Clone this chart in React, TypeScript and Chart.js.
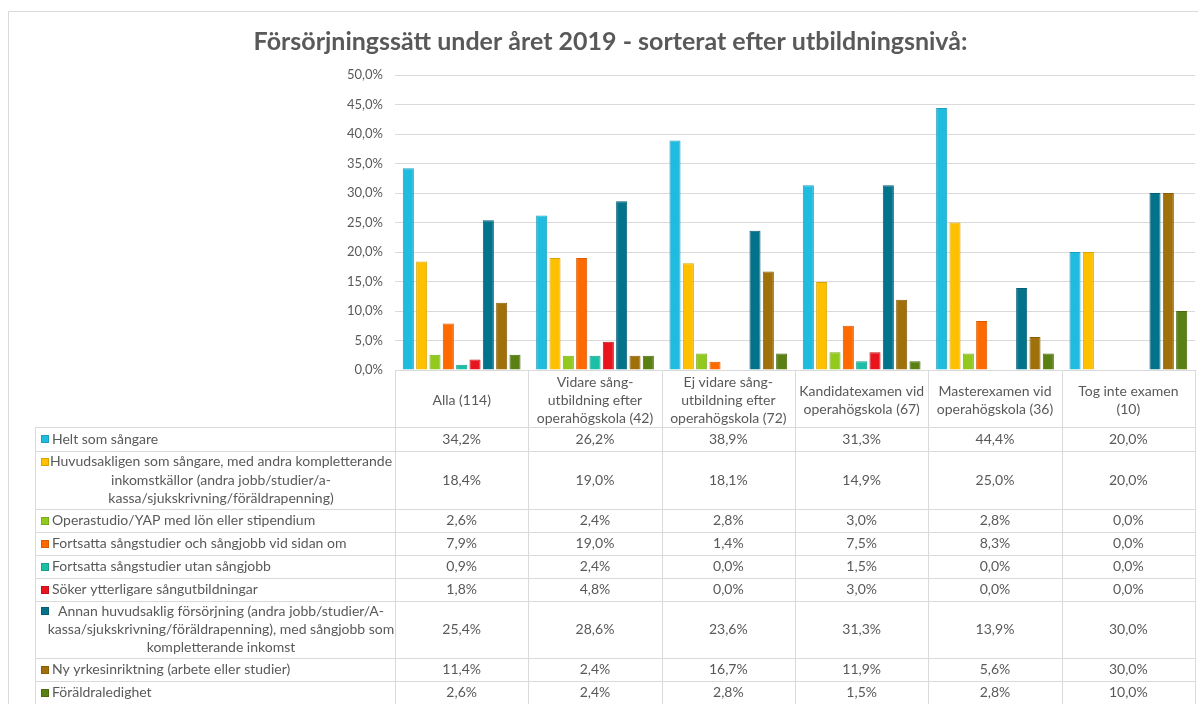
import { useEffect, useRef } from "react";
import { Chart, registerables } from "chart.js";

Chart.register(...registerables);

// ---------- data ----------
const categories: string[][] = [
  ["Alla (114)"],
  ["Vidare sång-", "utbildning efter", "operahögskola (42)"],
  ["Ej vidare sång-", "utbildning efter", "operahögskola (72)"],
  ["Kandidatexamen vid", "operahögskola (67)"],
  ["Masterexamen vid", "operahögskola (36)"],
  ["Tog inte examen", "(10)"],
];

const heltSomSangare = [34.2, 26.2, 38.9, 31.3, 44.4, 20.0];
const huvudsakligenSomSangare = [18.4, 19.0, 18.1, 14.9, 25.0, 20.0];
const operastudio = [2.6, 2.4, 2.8, 3.0, 2.8, 0.0];
const studierOchSangjobb = [7.9, 19.0, 1.4, 7.5, 8.3, 0.0];
const studierUtanSangjobb = [0.9, 2.4, 0.0, 1.5, 0.0, 0.0];
const sokerUtbildning = [1.8, 4.8, 0.0, 3.0, 0.0, 0.0];
const annanForsorjning = [25.4, 28.6, 23.6, 31.3, 13.9, 30.0];
const nyYrkesinriktning = [11.4, 2.4, 16.7, 11.9, 5.6, 30.0];
const foraldraledighet = [2.6, 2.4, 2.8, 1.5, 2.8, 10.0];

const seriesValues = [
  heltSomSangare,
  huvudsakligenSomSangare,
  operastudio,
  studierOchSangjobb,
  studierUtanSangjobb,
  sokerUtbildning,
  annanForsorjning,
  nyYrkesinriktning,
  foraldraledighet,
];

const seriesLabels: string[][] = [
  ["Helt som sångare"],
  [
    "Huvudsakligen som sångare, med andra kompletterande",
    "inkomstkällor (andra jobb/studier/a-",
    "kassa/sjukskrivning/föräldrapenning)",
  ],
  ["Operastudio/YAP med lön eller stipendium"],
  ["Fortsatta sångstudier och sångjobb vid sidan om"],
  ["Fortsatta sångstudier utan sångjobb"],
  ["Söker ytterligare sångutbildningar"],
  [
    "Annan huvudsaklig försörjning (andra jobb/studier/A-",
    "kassa/sjukskrivning/föräldrapenning), med sångjobb som",
    "kompletterande inkomst",
  ],
  ["Ny yrkesinriktning (arbete eller studier)"],
  ["Föräldraledighet"],
];

const seriesColors = [
  "#1FBCE0",
  "#FFC000",
  "#92C91E",
  "#FF6A00",
  "#1BBFA5",
  "#E8141E",
  "#03738C",
  "#A0700A",
  "#5A7F12",
];
const seriesBorders = [
  "#1A9FBF",
  "#D9A300",
  "#7CAB19",
  "#D95A00",
  "#179F8B",
  "#C41119",
  "#025F74",
  "#885F08",
  "#4A6A0E",
];

const yMax = 50;
const yStep = 5;

const titleText = "Försörjningssätt under året 2019 - sorterat efter utbildningsnivå:";

// ---------- layout constants (not data) ----------
const FONT = "Lato, 'Open Sans', sans-serif";
const TEXT = "#595959";
const LINE = "#DADADA";
const headerHeight = 57;
const rowHeights = [24, 58, 23, 23, 23, 23, 57, 23, 23];
const labelLeft = 35;

const fmt = (v: number) => v.toFixed(1).replace(".", ",") + "%";

const tablePlugin = {
  id: "dataTable",
  afterDraw(chart: any) {
    const ctx: CanvasRenderingContext2D = chart.ctx;
    const area = chart.chartArea;
    const xs = chart.scales.x;
    const n = categories.length;
    const colW = (area.right - area.left) / n;
    const top = area.bottom;
    const H = chart.height;
    ctx.save();
    ctx.strokeStyle = LINE;
    ctx.lineWidth = 1;

    // border around chart
    ctx.beginPath();
    ctx.moveTo(8.5, H + 5);
    ctx.lineTo(8.5, 11.5);
    ctx.lineTo(chart.width + 5, 11.5);
    ctx.stroke();

    // horizontal lines
    const rowTops: number[] = [];
    let y = top + headerHeight;
    ctx.beginPath();
    ctx.moveTo(area.left, Math.round(top) + 0.5);
    ctx.lineTo(area.right, Math.round(top) + 0.5);
    for (let i = 0; i < rowHeights.length; i++) {
      rowTops.push(y);
      ctx.moveTo(labelLeft, Math.round(y) + 0.5);
      ctx.lineTo(area.right, Math.round(y) + 0.5);
      y += rowHeights[i];
    }
    ctx.moveTo(labelLeft, Math.round(y) + 0.5);
    ctx.lineTo(area.right, Math.round(y) + 0.5);
    // vertical lines
    for (let c = 0; c <= n; c++) {
      const x = Math.round(area.left + c * colW) + 0.5;
      ctx.moveTo(x, top);
      ctx.lineTo(x, y);
    }
    ctx.moveTo(labelLeft + 0.5, top + headerHeight);
    ctx.lineTo(labelLeft + 0.5, y);
    ctx.stroke();

    ctx.fillStyle = TEXT;
    ctx.font = `14px ${FONT}`;
    ctx.textBaseline = "middle";
    ctx.textAlign = "center";
    const lh = 18.3;

    // header
    for (let c = 0; c < n; c++) {
      const cx = xs.getPixelForValue(c);
      const lines = categories[c];
      const cy = top + headerHeight / 2 + 2;
      lines.forEach((t, k) => {
        ctx.fillText(t, cx, cy + (k - (lines.length - 1) / 2) * lh);
      });
    }

    // rows
    const labelCenter = (52 + area.left - 5) / 2;
    for (let r = 0; r < seriesValues.length; r++) {
      const rt = rowTops[r];
      const h = rowHeights[r];
      const cy = rt + h / 2;
      const lines = seriesLabels[r];
      const firstY = cy - ((lines.length - 1) * lh) / 2;
      // legend square
      ctx.fillStyle = seriesColors[r];
      ctx.fillRect(41, Math.round(firstY) - 4, 8, 8);
      ctx.strokeStyle = seriesBorders[r];
      ctx.strokeRect(41.5, Math.round(firstY) - 3.5, 7, 7);
      ctx.fillStyle = TEXT;
      if (lines.length === 1) {
        ctx.textAlign = "left";
        ctx.fillText(lines[0], 52, cy);
      } else {
        ctx.textAlign = "center";
        lines.forEach((t, k) => ctx.fillText(t, labelCenter, firstY + k * lh));
      }
      ctx.textAlign = "center";
      for (let c = 0; c < n; c++) {
        ctx.fillText(fmt(seriesValues[r][c]), xs.getPixelForValue(c), cy);
      }
    }
    ctx.restore();
  },
};

export default function App() {
  const ref = useRef<HTMLCanvasElement | null>(null);

  useEffect(() => {
    document.body.style.margin = "0";
    const canvas = ref.current!;
    const chart = new Chart(canvas, {
      type: "bar",
      data: {
        labels: categories,
        datasets: seriesValues.map((vals, i) => ({
          label: seriesLabels[i].join(" "),
          data: vals,
          backgroundColor: seriesColors[i],
          borderColor: seriesBorders[i],
          borderWidth: 1,
          categoryPercentage: 0.9,
          barPercentage: 0.83,
        })),
      },
      options: {
        responsive: false,
        animation: false,
        events: [],
        layout: { padding: { left: 26, right: 3, top: 0, bottom: 334 } },
        plugins: {
          legend: { display: false },
          tooltip: { enabled: false },
          title: {
            display: true,
            text: titleText,
            color: TEXT,
            font: { family: FONT, size: 25, weight: "bold", lineHeight: 1.2 },
            padding: { top: 27, bottom: 18 },
          },
        },
        scales: {
          x: { display: false },
          y: {
            min: 0,
            max: yMax,
            border: { display: false },
            grid: { color: LINE, drawTicks: false },
            ticks: {
              stepSize: yStep,
              padding: 12,
              color: TEXT,
              font: { family: FONT, size: 13 },
              callback: (v: any) => fmt(Number(v)),
            },
            afterFit: (s: any) => {
              s.width = 395 - 26;
            },
          },
        },
      },
      plugins: [tablePlugin],
    });
    return () => chart.destroy();
  }, []);

  return (
    <div style={{ width: 1198, height: 704 }}>
      <canvas ref={ref} width={1198} height={704} style={{ display: "block" }} />
    </div>
  );
}
